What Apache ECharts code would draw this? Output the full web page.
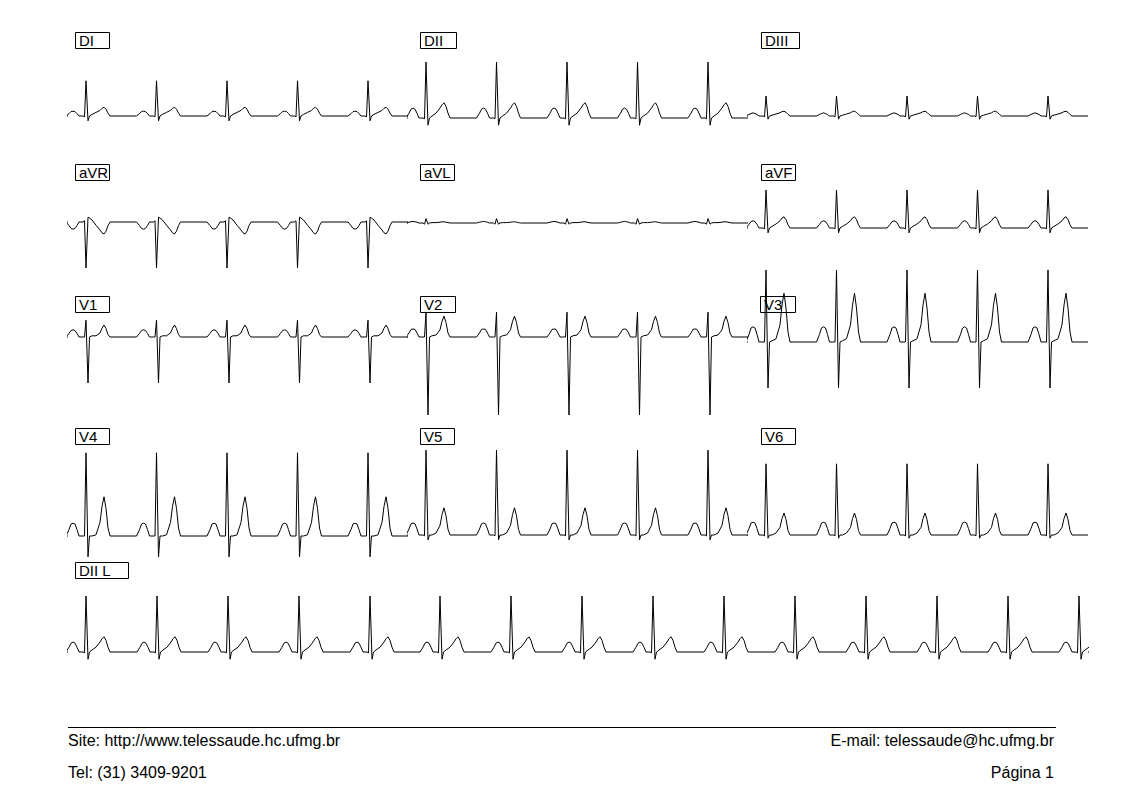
<!DOCTYPE html>
<html>
<head>
<meta charset="utf-8">
<script src="https://cdn.jsdelivr.net/npm/echarts@6/dist/echarts.min.js"></script>
<style>
html,body{margin:0;padding:0;background:#fff}
#c{width:1123px;height:793px}
</style>
</head>
<body>
<div id="c"></div>
<script>
// ---------- DATA (seconds / millivolts, read from the tracing) ----------
// time points of one beat template, relative to the R peak (s)
const TEMPLATE_T = [-0.20,-0.17,-0.15,-0.13,-0.11,-0.09,-0.07,-0.03,-0.015,0,0.02,0.035,0.06,0.10,0.14,0.16,0.18,0.20,0.22,0.24];
// amplitude of each lead at those time points (mV)
const DI   = [0,0.06,0.11,0.12,0.11,0.06,0,0,-0.02,0.88,-0.12,0,0.04,0.09,0.14,0.19,0.22,0.17,0.07,0];
const DII  = [0,0.12,0.22,0.25,0.22,0.12,0,0,-0.02,1.40,-0.18,0,0.05,0.12,0.25,0.33,0.38,0.29,0.12,0];
const DIII = [0,0.04,0.06,0.08,0.06,0.04,0,0,-0.02,0.50,-0.08,0,0.02,0.05,0.08,0.11,0.12,0.09,0.04,0];
const AVR  = [0,-0.09,-0.16,-0.18,-0.16,-0.09,0,0,0.03,-1.15,0.12,0.10,0.05,-0.08,-0.20,-0.27,-0.30,-0.23,-0.09,0];
const AVL  = [0,0.02,0.03,0.04,0.03,0.02,0,0,-0.03,0.11,-0.03,0,0.01,0.01,0.02,0.03,0.03,0.02,0.01,0];
const AVF  = [0,0.09,0.16,0.18,0.16,0.09,0,0,-0.02,0.95,-0.12,0,0.04,0.10,0.18,0.25,0.28,0.21,0.08,0];
const V1   = [0,0.09,0.16,0.18,0.16,0.09,0,0,0,0.42,-1.15,0,0.03,0.03,0.10,0.22,0.30,0.21,0.06,0];
const V2   = [0,0.10,0.19,0.20,0.19,0.10,0,0,0,0.62,-1.95,0,0.03,0.05,0.18,0.39,0.52,0.36,0.10,0];
const V3   = [0,0.19,0.35,0.38,0.35,0.19,0,0,0,1.80,-1.15,0,0.03,0.08,0.43,0.92,1.22,0.85,0.25,0];
const V4   = [0,0.16,0.30,0.32,0.30,0.16,0,0,0,2.08,-0.52,0,0,0.03,0.34,0.74,0.98,0.69,0.20,0];
const V5   = [0,0.15,0.28,0.30,0.28,0.15,0,0,-0.02,2.12,-0.12,0,0,0.05,0.24,0.51,0.68,0.48,0.14,0];
const V6   = [0,0.16,0.30,0.32,0.30,0.16,0,0,-0.02,1.78,-0.08,0,0,0.05,0.19,0.41,0.55,0.39,0.11,0];
// R-peak times inside each 12-lead segment (s) and in the long DII strip (s)
const BEAT_T = [0.18,0.885,1.59,2.295,3.00];
const RHYTHM_BEAT_T = [0.18,0.89,1.60,2.31,3.02,3.72,4.43,5.14,5.85,6.56,7.27,7.98,8.69,9.40,10.11];
const SEG_DUR = 3.4;
const RHYTHM_DUR = 10.2;
// texts
const LEAD_LABELS = ['DI','DII','DIII','aVR','aVL','aVF','V1','V2','V3','V4','V5','V6','DII L'];
const FOOTER_TEXTS = ['Site: http://www.telessaude.hc.ufmg.br','E-mail: telessaude@hc.ufmg.br','Tel: (31) 3409-9201','Página 1'];

// ---------- LAYOUT (pixels) ----------
const LEAD_VALUES = [DI,DII,DIII,AVR,AVL,AVF,V1,V2,V3,V4,V5,V6,DII];
const LAYOUT = [
  {left:68,  base:116, box:[75,32,34]},
  {left:408, base:118, box:[420,32,36]},
  {left:748, base:116, box:[761,32,38]},
  {left:68,  base:222, box:[75,164,34]},
  {left:408, base:223, box:[420,164,34]},
  {left:748, base:228, box:[761,164,34]},
  {left:68,  base:337, box:[75,296,34]},
  {left:408, base:337, box:[420,296,35]},
  {left:748, base:342, box:[760,296,35]},
  {left:68,  base:536, box:[75,428,34]},
  {left:408, base:535, box:[420,428,34]},
  {left:748, base:535, box:[761,428,34]},
  {left:68,  base:652, box:[75,562,53], rhythm:true}
];
const SEG_W = 340, RHYTHM_W = 1020, HALF_H = 100, Y_RANGE = 2.5;

function buildTrace(values, beats, dur){
  const pts = [[0,0]];
  beats.forEach(tb => {
    TEMPLATE_T.forEach((dt,i) => pts.push([tb+dt, values[i]]));
  });
  pts.push([dur,0]);
  return pts;
}

const grids=[], xAxes=[], yAxes=[], series=[], graphics=[];
LAYOUT.forEach((L,i) => {
  const dur = L.rhythm ? RHYTHM_DUR : SEG_DUR;
  grids.push({left:L.left, top:L.base-HALF_H, width:L.rhythm?RHYTHM_W:SEG_W, height:HALF_H*2, containLabel:false});
  xAxes.push({type:'value', gridIndex:i, min:0, max:dur, show:false});
  yAxes.push({type:'value', gridIndex:i, min:-Y_RANGE, max:Y_RANGE, show:false});
  series.push({
    type:'line', xAxisIndex:i, yAxisIndex:i, showSymbol:false, symbol:'none', clip:true,
    silent:true, animation:false,
    lineStyle:{color:'#000', width:1},
    data: buildTrace(LEAD_VALUES[i], L.rhythm ? RHYTHM_BEAT_T : BEAT_T, dur)
  });
  const [bx,by,bw] = L.box;
  graphics.push({type:'rect', shape:{x:bx+0.5, y:by+0.5, width:bw, height:16}, style:{fill:'none', stroke:'#000', lineWidth:1}, z:10});
  graphics.push({type:'text', x:bx+4, y:by+8, style:{text:LEAD_LABELS[i], fontSize:15, fontFamily:'Liberation Sans', fill:'#000', align:'left', verticalAlign:'middle'}, z:11});
});

// footer
graphics.push({type:'line', shape:{x1:68, y1:727.5, x2:1056, y2:727.5}, style:{stroke:'#000', lineWidth:1}});
const footFont = {fontSize:16, fontFamily:'Liberation Sans', fill:'#000', verticalAlign:'middle'};
graphics.push({type:'text', x:68,   y:740, style:Object.assign({text:FOOTER_TEXTS[0], align:'left'}, footFont)});
graphics.push({type:'text', x:1054, y:740, style:Object.assign({text:FOOTER_TEXTS[1], align:'right'}, footFont)});
graphics.push({type:'text', x:68,   y:772, style:Object.assign({text:FOOTER_TEXTS[2], align:'left'}, footFont)});
graphics.push({type:'text', x:1054, y:772, style:Object.assign({text:FOOTER_TEXTS[3], align:'right'}, footFont)});

const chart = echarts.init(document.getElementById('c'), null, {renderer:'svg', width:1123, height:793});
chart.setOption({
  backgroundColor:'#ffffff',
  animation:false,
  grid:grids, xAxis:xAxes, yAxis:yAxes, series:series,
  graphic:{elements:graphics}
});
</script>
</body>
</html>
